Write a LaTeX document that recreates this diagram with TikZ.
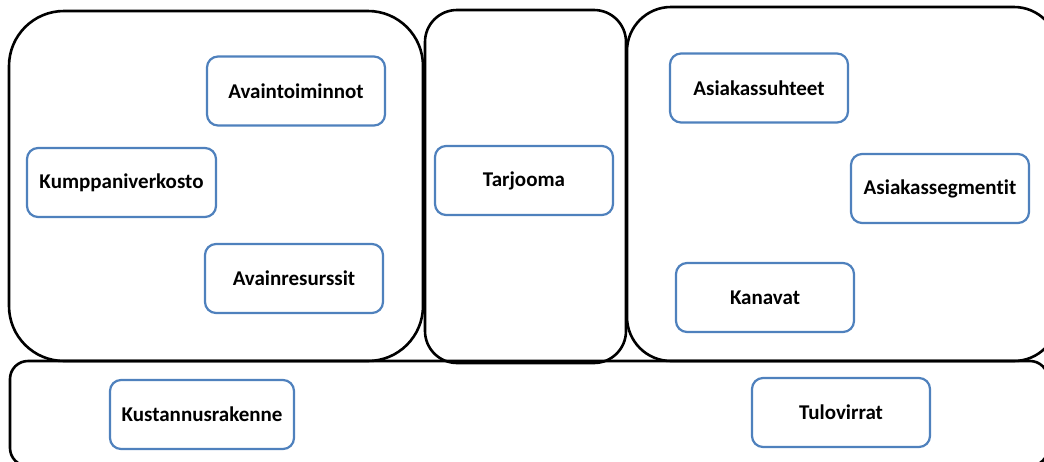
\documentclass[tikz,border=0pt]{standalone}
\usepackage{fontspec}
\setmainfont[Ligatures=NoCommon]{Carlito}
\definecolor{boxblue}{HTML}{4F81BD}
\begin{document}
\begin{tikzpicture}[x=1pt,y=-1pt,
    panel/.style={draw,line width=2.6pt,inner sep=0pt},
    block/.style={draw=boxblue,line width=2.2pt,rounded corners=11pt,fill=white,
      minimum width=178pt,minimum height=69pt,
      font=\fontsize{21}{25}\selectfont\bfseries}]
    \clip (0,0) rectangle (1044,461);
    % areas
    \node[panel,rounded corners=18pt,minimum width=1038pt,minimum height=105pt] (money) at (529,413.5) {};
    \node[panel,rounded corners=55pt,minimum width=414pt,minimum height=350pt] (infra) at (216,186) {};
    \node[panel,rounded corners=32pt,minimum width=201pt,minimum height=353pt] (offer) at (525.5,186.5) {};
    \node[panel,rounded corners=44pt,minimum width=431pt,minimum height=354pt] (cust) at (842.5,184) {};
    % blocks
    \node[block] (kt) at (296,91) {Avaintoiminnot};
    \node[block,minimum width=189pt] (kp) at (121.5,182.5) {Kumppaniverkosto};
    \node[block] (kr) at (294,278.5) {Avainresurssit};
    \node[block] (vp) at (524,180.5) {Tarjooma};
    \node[block] (cr) at (759,88) {Asiakassuhteet};
    \node[block] (cs) at (940,188.5) {Asiakassegmentit};
    \node[block] (ch) at (765,297.5) {Kanavat};
    \node[block,minimum width=184pt] (cost) at (202,414.5) {Kustannusrakenne};
    \node[block] (rev) at (841,412.5) {Tulovirrat};
\end{tikzpicture}
\end{document}
